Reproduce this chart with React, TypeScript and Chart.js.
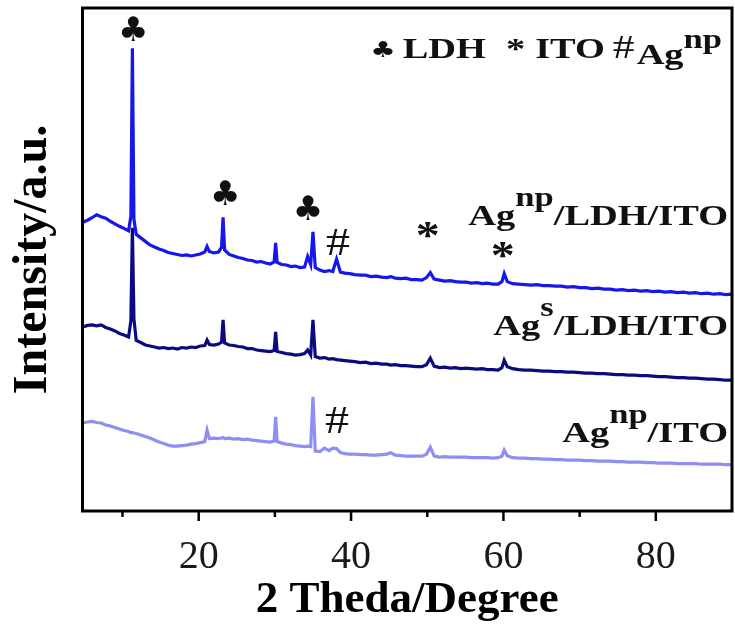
import React, { useEffect, useRef } from 'react';
import { Chart, registerables } from 'chart.js';

Chart.register(...registerables);

// Shared 2θ grid (degrees) for the three diffraction patterns
const twoTheta = [
  4.8, 5.4, 6.0, 6.6, 7.2, 7.8, 8.4, 9.0, 9.6, 10.2,
  10.8, 11.1, 11.3, 11.5, 11.8, 12.4, 13.0, 13.6, 14.2, 14.8,
  15.4, 16.0, 16.6, 17.2, 17.8, 18.4, 19.0, 19.6, 20.2, 20.8,
  21.1, 21.4, 22.0, 22.6, 23.0, 23.2, 23.4, 24.0, 24.6, 25.2,
  25.8, 26.4, 27.0, 27.6, 28.2, 28.8, 29.4, 29.9, 30.1, 30.3,
  30.9, 31.5, 32.1, 32.7, 33.3, 33.9, 34.3, 34.7, 35.0, 35.3,
  35.9, 36.5, 37.1, 37.6, 38.1, 38.6, 39.2, 39.8, 40.5, 41.2,
  41.9, 42.6, 43.3, 44.0, 44.7, 45.2, 45.8, 46.5, 47.2, 47.9,
  48.6, 49.3, 49.9, 50.4, 50.9, 51.6, 52.3, 53.0, 53.7, 54.4,
  55.1, 55.8, 56.5, 57.2, 57.9, 58.6, 59.3, 59.8, 60.1, 60.5,
  61.2, 62.0, 62.8, 63.6, 64.4, 65.2, 66.0, 66.8, 67.6, 68.4,
  69.2, 70.0, 70.8, 71.6, 72.4, 73.2, 74.0, 74.8, 75.6, 76.4,
  77.2, 78.0, 78.8, 79.6, 80.4, 81.2, 82.0, 82.8, 83.6, 84.4,
  85.2, 86.0, 86.8, 87.6, 88.4, 89.2, 90.0,
];

// Ag^np/LDH/ITO (offset trace, a.u.)
const agNpLdhIto = [
  57.4, 57.8, 58.3, 58.9, 58.5, 58.2, 57.6, 57.1, 56.6, 56.2,
  55.7, 58.6, 92.0, 58.0, 55.0, 54.3, 53.6, 52.9, 52.5, 52.1,
  51.8, 51.4, 51.2, 51.0, 50.8, 50.9, 50.7, 50.9, 51.1, 51.5,
  52.6, 51.6, 51.3, 51.5, 52.4, 58.4, 51.9, 51.0, 50.7, 50.4,
  50.2, 49.9, 49.8, 49.5, 49.6, 49.3, 49.1, 49.5, 53.3, 49.4,
  49.0, 48.9, 48.6, 48.7, 48.4, 48.5, 50.6, 49.0, 55.5, 48.4,
  47.9, 47.6, 47.8, 47.6, 50.1, 47.5, 47.3, 47.2, 47.0, 46.9,
  46.9, 46.6, 46.7, 46.5, 46.4, 46.6, 46.3, 46.2, 46.3, 46.0,
  46.0, 45.9, 46.4, 47.4, 46.1, 45.9, 45.7, 45.8, 45.6, 45.5,
  45.5, 45.3, 45.4, 45.2, 45.3, 45.1, 45.1, 45.6, 47.2, 45.6,
  45.2, 45.1, 45.0, 44.9, 45.0, 44.8, 44.8, 44.7, 44.7, 44.5,
  44.6, 44.4, 44.4, 44.2, 44.3, 44.1, 44.1, 43.9, 44.0, 43.8,
  43.9, 43.7, 43.8, 43.6, 43.7, 43.5, 43.6, 43.4, 43.5, 43.3,
  43.4, 43.2, 43.3, 43.1, 43.2, 43.0, 43.1,
];

// Ag^s/LDH/ITO
const agSLdhIto = [
  36.6, 36.9, 37.0, 36.8, 37.0, 36.5, 36.2, 35.8, 35.3, 35.0,
  34.6, 37.8, 56.3, 38.2, 33.9, 33.5, 33.0, 32.8, 32.6, 32.4,
  32.5, 32.3, 32.4, 32.2, 32.5, 32.4, 32.6, 32.5, 32.8, 32.9,
  34.0, 33.1, 33.0, 33.2, 33.6, 38.0, 33.4, 33.0, 32.9, 32.7,
  32.6, 32.3, 32.3, 32.0, 31.9, 31.8, 31.7, 31.9, 35.6, 31.7,
  31.5, 31.3, 31.2, 31.0, 31.1, 31.3, 32.0, 31.0, 38.0, 30.7,
  30.4, 30.5, 30.2, 30.3, 30.1, 30.0, 29.9, 29.8, 29.7, 29.5,
  29.6, 29.3, 29.4, 29.2, 29.2, 29.0, 29.1, 28.9, 28.9, 28.8,
  28.7, 28.7, 29.1, 30.4, 28.8, 28.5, 28.6, 28.4, 28.5, 28.3,
  28.4, 28.3, 28.2, 28.3, 28.1, 28.1, 28.0, 28.5, 30.0, 28.7,
  28.3, 28.1, 28.0, 28.0, 27.9, 27.8, 27.8, 27.7, 27.7, 27.6,
  27.6, 27.5, 27.4, 27.4, 27.3, 27.3, 27.2, 27.1, 27.1, 27.0,
  27.0, 26.9, 26.9, 26.8, 26.7, 26.7, 26.6, 26.5, 26.5, 26.4,
  26.4, 26.3, 26.2, 26.2, 26.1, 26.0, 26.0,
];

// Ag^np/ITO
const agNpIto = [
  17.5, 17.7, 17.8, 17.6, 17.5, 17.1, 16.9, 16.6, 16.3, 16.0,
  15.8, 15.6, 15.6, 15.5, 15.4, 15.1, 14.8, 14.5, 14.1, 13.7,
  13.4, 13.1, 12.9, 12.9, 13.0, 13.1, 13.3, 13.4, 13.6, 13.8,
  16.1, 14.4, 14.5, 14.4, 14.5, 14.6, 14.4, 14.5, 14.3, 14.4,
  14.2, 14.3, 14.1, 14.0, 13.9, 13.8, 13.7, 13.9, 18.7, 13.8,
  13.5, 13.3, 13.2, 13.0, 12.9, 12.8, 12.9, 12.8, 22.7, 11.9,
  11.8, 12.5, 12.0, 12.5, 12.4, 11.6, 11.4, 11.3, 11.3, 11.2,
  11.2, 11.1, 11.1, 11.2, 11.3, 11.6, 11.1, 11.0, 10.9, 10.9,
  10.9, 10.9, 11.3, 12.7, 10.9, 10.7, 10.8, 10.7, 10.7, 10.7,
  10.7, 10.6, 10.6, 10.6, 10.6, 10.5, 10.6, 10.9, 12.1, 11.0,
  10.6, 10.5, 10.5, 10.4, 10.4, 10.3, 10.3, 10.2, 10.2, 10.1,
  10.1, 10.1, 10.0, 10.0, 9.9, 9.9, 9.9, 9.8, 9.8, 9.7,
  9.7, 9.7, 9.6, 9.6, 9.5, 9.5, 9.5, 9.4, 9.4, 9.4,
  9.4, 9.3, 9.3, 9.3, 9.3, 9.2, 9.2,
];

const seriesColors = ['#1717ec', '#0b0b7e', '#8f8ff3'];
const seriesBase = ['Ag', 'Ag', 'Ag'];
const seriesSup = ['np', 's', 'np'];
const seriesTail = ['/LDH/ITO', '/LDH/ITO', '/ITO'];
const seriesLabelLevel = [56.9, 35.0, 13.7];

// Phase markers above reflections
const markerSymbol = ['♣', '♣', '♣', '#', '*', '*', '#'];
const markerTheta = [11.38, 23.45, 34.33, 38.27, 50.06, 59.9, 38.14];
const markerLevel = [96.0, 63.4, 60.4, 53.5, 55.9, 51.9, 18.1];

// Phase key
const keySymbol = ['♣', '*', '#'];
const keyName = ['LDH', 'ITO', 'Ag'];
const keySup = ['', '', 'np'];
const keyLevel = 90.1;

const xMajorTicks = [20, 40, 60, 80];
const xMinorTicks = [10, 30, 50, 70];
const xMin = 4.75;
const xMax = 90;

const SERIF = '"Liberation Serif", "Times New Roman", serif';
const SYMBOL = '"DejaVu Sans", sans-serif';
const TEXT_SX = 1.28;

// a run is either text (optionally shifted vertically) or a fixed horizontal gap
type Run = { text?: string; font?: string; dy?: number; gap?: number };

function runWidth(ctx: CanvasRenderingContext2D, r: Run, sx: number) {
  if (r.gap !== undefined) return r.gap;
  ctx.font = r.font as string;
  return ctx.measureText(r.text as string).width * sx;
}

function drawRuns(ctx: CanvasRenderingContext2D, runs: Run[], xRight: number, baseline: number, sx: number) {
  let x = xRight - runs.reduce((s, r) => s + runWidth(ctx, r, sx), 0);
  for (const r of runs) {
    const w = runWidth(ctx, r, sx);
    if (r.text) {
      ctx.font = r.font as string;
      ctx.save();
      ctx.translate(x, baseline + (r.dy || 0));
      ctx.scale(sx, 1);
      ctx.fillText(r.text, 0, 0);
      ctx.restore();
    }
    x += w;
  }
}

function drawCentered(ctx: CanvasRenderingContext2D, text: string, font: string, cx: number, cy: number, sx: number) {
  ctx.font = font;
  const m = ctx.measureText(text);
  const L = m.actualBoundingBoxLeft;
  const R = m.actualBoundingBoxRight;
  const A = m.actualBoundingBoxAscent;
  const D = m.actualBoundingBoxDescent;
  ctx.save();
  ctx.translate(cx, cy + (A - D) / 2);
  ctx.scale(sx, 1);
  ctx.fillText(text, -(R - L) / 2, 0);
  ctx.restore();
}

const markerFont = (s: string) =>
  s === '♣' ? `34px ${SYMBOL}` : s === '*' ? `bold 40px ${SERIF}` : `40px ${SERIF}`;

const overlayPlugin = {
  id: 'xrdOverlay',
  afterDatasetsDraw(chart: any) {
    const { ctx, chartArea: a, scales } = chart;
    const xs = scales.x;
    const ys = scales.y;
    ctx.save();
    ctx.fillStyle = '#111';
    ctx.textAlign = 'left';
    ctx.textBaseline = 'alphabetic';

    // plot frame
    ctx.strokeStyle = '#000';
    ctx.lineWidth = 3;
    ctx.strokeRect(a.left, a.top, a.right - a.left, a.bottom - a.top);

    // outward tick marks on the 2θ axis
    ctx.lineWidth = 2.5;
    const tick = (v: number, len: number) => {
      const px = xs.getPixelForValue(v);
      ctx.beginPath();
      ctx.moveTo(px, a.bottom);
      ctx.lineTo(px, a.bottom + len);
      ctx.stroke();
    };
    xMajorTicks.forEach((v) => tick(v, 10));
    xMinorTicks.forEach((v) => tick(v, 6));

    // reflection markers
    markerSymbol.forEach((s, i) => {
      drawCentered(ctx, s, markerFont(s), xs.getPixelForValue(markerTheta[i]), ys.getPixelForValue(markerLevel[i]), s === '♣' ? 1 : 1.2);
    });

    // sample names
    const main = `bold 30px ${SERIF}`;
    const sup = `bold 27px ${SERIF}`;
    seriesBase.forEach((b, i) => {
      drawRuns(
        ctx,
        [
          { text: b, font: main },
          { text: seriesSup[i], font: sup, dy: -19 },
          { text: seriesTail[i], font: main },
        ],
        a.right - 4,
        ys.getPixelForValue(seriesLabelLevel[i]),
        TEXT_SX,
      );
    });

    // phase key
    const gapsBefore = [0, 20, 8];
    const gapsAfter = [7, 10, 2];
    const keyRuns: Run[] = [];
    keySymbol.forEach((s, i) => {
      if (gapsBefore[i]) keyRuns.push({ gap: gapsBefore[i] });
      if (s === '♣') keyRuns.push({ text: s, font: `22px ${SYMBOL}`, dy: -1 });
      else if (s === '#') keyRuns.push({ text: s, font: `34px ${SERIF}` });
      else keyRuns.push({ text: s, font: main });
      keyRuns.push({ gap: gapsAfter[i] });
      const isLast = i === keySymbol.length - 1;
      keyRuns.push({ text: keyName[i], font: main, dy: isLast ? 6 : 0 });
      if (keySup[i]) keyRuns.push({ text: keySup[i], font: sup, dy: -10 });
    });
    drawRuns(ctx, keyRuns, a.right - 10, ys.getPixelForValue(keyLevel), TEXT_SX);

    ctx.restore();
  },
};

export default function App() {
  const canvasRef = useRef<HTMLCanvasElement | null>(null);

  useEffect(() => {
    const canvas = canvasRef.current;
    if (!canvas) return;
    const series = [agNpLdhIto, agSLdhIto, agNpIto];
    const names = ['Ag^np/LDH/ITO', 'Ag^s/LDH/ITO', 'Ag^np/ITO'];
    const chart = new Chart(canvas, {
      type: 'line',
      data: {
        datasets: series.map((vals, k) => ({
          label: names[k],
          data: twoTheta.map((t, i) => ({ x: t, y: vals[i] })),
          borderColor: seriesColors[k],
          backgroundColor: seriesColors[k],
          borderWidth: 3.2,
          pointRadius: 0,
          tension: 0,
          fill: false,
        })),
      },
      options: {
        responsive: false,
        animation: false,
        devicePixelRatio: 1,
        layout: { padding: { top: 8, right: 3, left: 0, bottom: 0 } },
        plugins: { legend: { display: false }, tooltip: { enabled: false } },
        scales: {
          x: {
            type: 'linear',
            min: xMin,
            max: xMax,
            afterBuildTicks: (s: any) => {
              s.ticks = xMajorTicks.map((v) => ({ value: v }));
            },
            afterFit: (s: any) => {
              s.height = 120;
            },
            grid: { display: false, drawTicks: false },
            border: { display: false },
            ticks: {
              padding: 22,
              color: '#1a1a1a',
              autoSkip: false,
              maxRotation: 0,
              font: { family: SERIF, size: 40 },
            },
            title: {
              display: true,
              text: '2 Theda/Degree',
              color: '#000',
              font: { family: SERIF, size: 45, weight: 'bold' },
              padding: { top: 0, bottom: 4 },
            },
          },
          y: {
            min: 0,
            max: 100,
            afterFit: (s: any) => {
              s.width = 82.5;
            },
            ticks: { display: false },
            grid: { display: false, drawTicks: false },
            border: { display: false },
            title: {
              display: true,
              text: 'Intensity/a.u.',
              color: '#000',
              font: { family: SERIF, size: 48, weight: 'bold' },
              padding: { top: 5, bottom: 0 },
            },
          },
        },
      },
      plugins: [overlayPlugin],
    });
    return () => chart.destroy();
  }, []);

  return (
    <div style={{ position: 'absolute', left: 0, top: 0, width: 735, height: 631, background: '#fff' }}>
      <canvas ref={canvasRef} width={735} height={631} />
    </div>
  );
}
